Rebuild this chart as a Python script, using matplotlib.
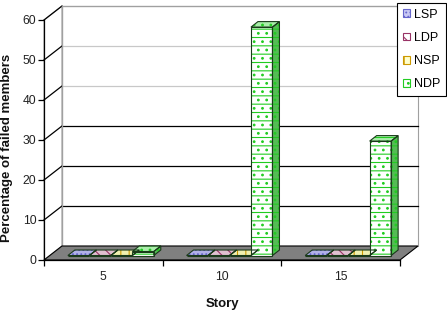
import matplotlib
matplotlib.use("Agg")
import matplotlib.pyplot as plt
from matplotlib.patches import Polygon, Patch
import numpy as np

plt.rcParams['font.family'] = ['Liberation Sans', 'DejaVu Sans']
plt.rcParams['hatch.linewidth'] = 0.8

stories = ["5", "10", "15"]
series = ["LSP", "LDP", "NSP", "NDP"]
LSP = [0, 0, 0]
LDP = [0, 0, 0]
NSP = [0, 0, 0]
NDP = [1, 57.1, 28.6]
values = [LSP, LDP, NSP, NDP]

face_colors = ['#c8c8f4', '#ffffff', '#ffffcc', '#ffffff']
hatch_colors = ['#6666cc', '#993366', '#cc9900', '#22cc22']
hatches = ['....', '\\\\\\', '||', '..--']
side_colors = ['#8080c0', '#b07090', '#c0c060', '#55bb55']
top_colors = ['#b0b0e8', '#e0c0d0', '#f0f0b0', '#aaeeaa']

W, H = 447, 310
fig = plt.figure(figsize=(W / 100, H / 100), dpi=100)
ax = fig.add_axes([44 / W, 50 / H, 356 / W, 240 / H])
ax.set_xlim(0, 3)
ax.set_ylim(0, 60)
ax.patch.set_visible(False)

pxx = 3 / 356
pxy = 60 / 240
BX, BY = 18 * pxx, 14 * pxy       # back wall offset
FX, FY = 7.5 * pxx, 4.5 * pxy     # bar front plane offset
DX, DY = 7 * pxx, 5.5 * pxy       # bar depth

# back wall
ax.add_patch(Polygon([(BX, BY), (3 + BX, BY), (3 + BX, 60 + BY), (BX, 60 + BY)],
                     closed=True, facecolor='white', edgecolor='#a0a0a0', lw=0.8,
                     clip_on=False, zorder=1))
# left wall
ax.add_patch(Polygon([(0, 0), (BX, BY), (BX, 60 + BY), (0, 60)], closed=True,
                     facecolor='white', edgecolor='#a0a0a0', lw=0.8, clip_on=False, zorder=1))
yt = [0, 10, 20, 30, 40, 50, 60]
for v in yt[1:-1]:
    col = '#000000' if v <= 30 else '#c8c8c8'
    ax.plot([BX, 3 + BX], [v + BY, v + BY], color=col, lw=0.9, clip_on=False, zorder=2)
for v in yt[1:]:
    ax.plot([0, BX], [v, v + BY], color='#000000', lw=0.9, clip_on=False, zorder=2)
ax.plot([BX, 3 + BX], [60 + BY, 60 + BY], color='#a0a0a0', lw=0.9, clip_on=False, zorder=2)
ax.plot([BX, BX], [BY, 60 + BY], color='#a0a0a0', lw=0.9, clip_on=False, zorder=2)
# floor
ax.add_patch(Polygon([(0, 0), (3, 0), (3 + BX, BY), (BX, BY)], closed=True,
                     facecolor='#808080', edgecolor='#000000', lw=0.8, clip_on=False, zorder=3))

bw = 0.181
for k, (vals, name) in enumerate(zip(values, series)):
    xs = np.arange(3) + 0.5 + (k - 1.5) * bw + FX
    # front faces
    ax.bar(xs, vals, width=bw, bottom=FY, facecolor=face_colors[k], edgecolor=hatch_colors[k],
           hatch=hatches[k], lw=0, zorder=5, clip_on=False)
    ax.bar(xs, vals, width=bw, bottom=FY, facecolor='none', edgecolor='#1a3a1a', lw=0.8,
           zorder=6, clip_on=False)
    for x, v in zip(xs, vals):
        x0, x1 = x - bw / 2, x + bw / 2
        top = FY + v
        tp = [(x0, top), (x1, top), (x1 + DX, top + DY), (x0 + DX, top + DY)]
        sp = [(x1, FY), (x1 + DX, FY + DY), (x1 + DX, top + DY), (x1, top)]
        for pts, fc in ((tp, top_colors[k]), (sp, side_colors[k])):
            ax.add_patch(Polygon(pts, closed=True, facecolor=fc, edgecolor=hatch_colors[k],
                                 hatch=hatches[k], lw=0, clip_on=False, zorder=5))
            ax.add_patch(Polygon(pts, closed=True, facecolor='none', edgecolor='#1a3a1a',
                                 lw=0.8, clip_on=False, zorder=6))

for s in ['top', 'right']:
    ax.spines[s].set_visible(False)
for s in ['left', 'bottom']:
    ax.spines[s].set_color('#000000')
    ax.spines[s].set_linewidth(0.9)
    ax.spines[s].set_zorder(7)

ax.set_yticks(yt)
ax.set_yticklabels([str(v) for v in yt])
ax.set_xticks([0, 1, 2, 3])
ax.set_xticklabels([])
ax.set_xticks([0.5, 1.5, 2.5], minor=True)
ax.set_xticklabels(stories, minor=True)
ax.tick_params(axis='x', which='minor', length=0, pad=8, labelsize=8.7, colors='#222222')
ax.tick_params(axis='x', which='major', length=4, width=0.9, color='#000000')
ax.tick_params(axis='y', length=4, width=0.9, pad=1.5, labelsize=8.7, labelcolor='#222222')

ax.set_ylabel("Percentage of failed members", fontsize=9.5, fontweight='bold', color='#111111')
ax.yaxis.set_label_coords(-0.086, 0.467)
ax.set_xlabel("Story", fontsize=9.5, fontweight='bold', color='#111111')
ax.xaxis.set_label_coords(0.5, -0.16)

handles = [Patch(facecolor=face_colors[k], edgecolor=hatch_colors[k], hatch=hatches[k], lw=0.8)
           for k in range(4)]
leg = fig.legend(handles, series, loc='upper right', bbox_to_anchor=(446 / W, 1 - 3 / H),
                 fontsize=9, handlelength=0.6, handleheight=0.6, handletextpad=0.3,
                 labelspacing=0.9, borderpad=0.45, borderaxespad=0, fancybox=False,
                 framealpha=1, edgecolor='#000000')
leg.get_frame().set_linewidth(0.8)

fig.savefig("out.png", dpi=100)
